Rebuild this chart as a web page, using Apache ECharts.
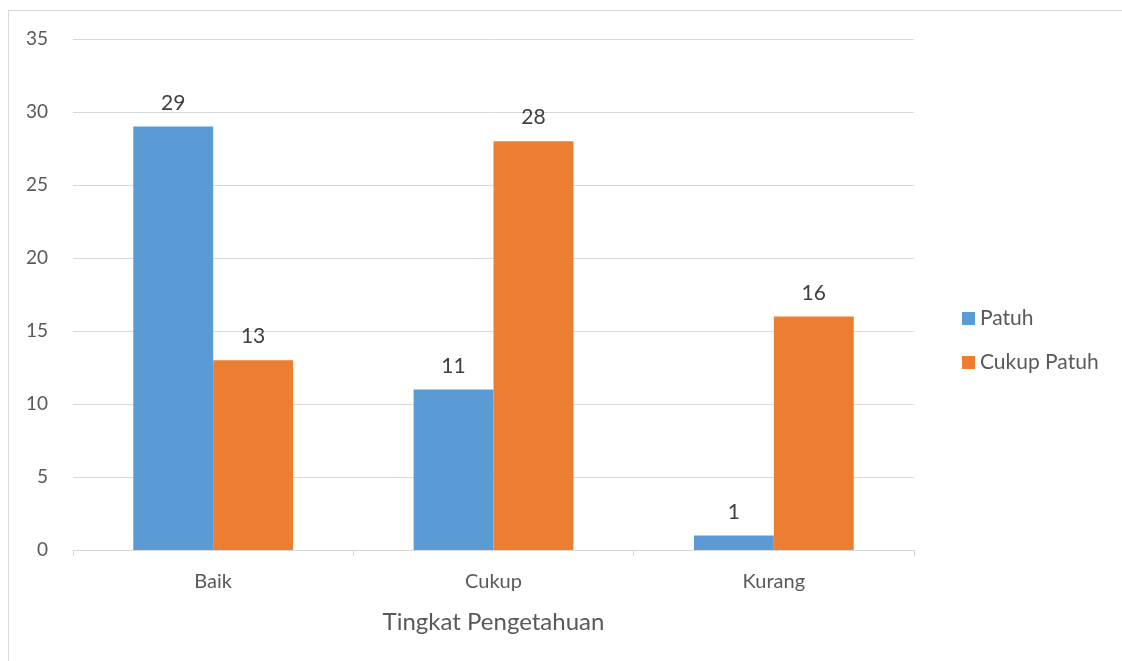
<!DOCTYPE html>
<html>
<head>
<meta charset="utf-8">
<script src="https://cdn.jsdelivr.net/npm/echarts@6/dist/echarts.min.js"></script>
<style>
  html, body { margin: 0; padding: 0; background: #fff; }
  #frame { position: absolute; left: 8px; top: 10px; width: 1130px; height: 670px; border: 1px solid #d9d9d9; box-sizing: border-box; }
  #chart { position: absolute; left: 0; top: 0; width: 1122px; height: 661px; }
</style>
</head>
<body>
<div id="frame"></div>
<div id="chart"></div>
<script>
const categories = ['Baik', 'Cukup', 'Kurang'];
const patuh = [29, 11, 1];
const cukupPatuh = [13, 28, 16];
const yTicks = { min: 0, max: 35, interval: 5 };

const font = 'Lato, "Open Sans", sans-serif';
const textColor = '#595959';

const chart = echarts.init(document.getElementById('chart'));
chart.setOption({
  animation: false,
  textStyle: { fontFamily: font },
  grid: { left: 73, right: 208, top: 39, bottom: 111 },
  legend: {
    orient: 'vertical',
    left: 957,
    top: 303,
    itemWidth: 13,
    itemHeight: 13,
    itemGap: 23,
    icon: 'rect',
    textStyle: { fontSize: 21, color: textColor, fontFamily: font }
  },
  xAxis: {
    type: 'category',
    data: categories,
    name: 'Tingkat Pengetahuan',
    nameLocation: 'middle',
    nameGap: 60,
    nameTextStyle: { fontSize: 24, color: textColor, fontFamily: font },
    axisLine: { lineStyle: { color: '#d9d9d9', width: 1 } },
    axisTick: { show: true, length: 6, lineStyle: { color: '#d9d9d9' } },
    axisLabel: { fontSize: 20, color: textColor, margin: 22, fontFamily: font }
  },
  yAxis: {
    type: 'value',
    min: yTicks.min,
    max: yTicks.max,
    interval: yTicks.interval,
    axisLine: { show: false },
    axisTick: { show: false },
    axisLabel: { fontSize: 19, color: textColor, margin: 25, fontFamily: font },
    splitLine: { lineStyle: { color: '#d9d9d9', width: 1 } }
  },
  series: [
    {
      name: 'Patuh',
      type: 'bar',
      data: patuh,
      itemStyle: { color: '#5b9bd5' },
      barGap: '0%',
      barCategoryGap: '43%',
      label: { show: true, position: 'top', distance: 13, fontSize: 21, color: '#404040', fontFamily: font }
    },
    {
      name: 'Cukup Patuh',
      type: 'bar',
      data: cukupPatuh,
      itemStyle: { color: '#ed7d31' },
      barGap: '0%',
      barCategoryGap: '43%',
      label: { show: true, position: 'top', distance: 13, fontSize: 21, color: '#404040', fontFamily: font }
    }
  ]
});
</script>
</body>
</html>
